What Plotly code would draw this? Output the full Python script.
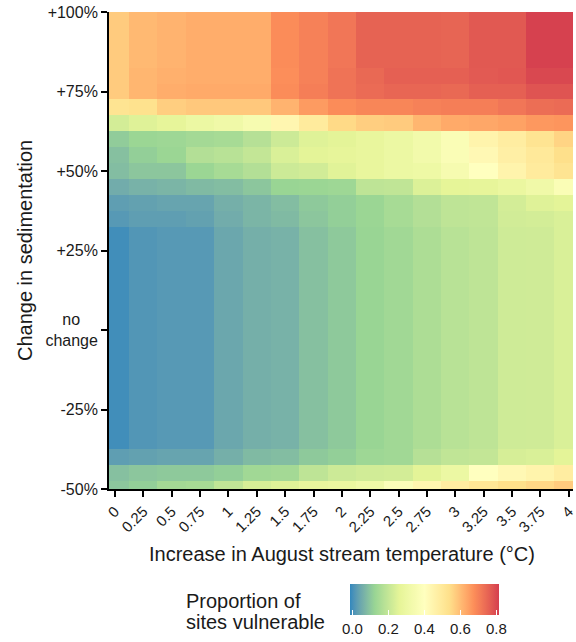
import plotly.graph_objects as go

# ---- data -------------------------------------------------------------
temp_increase = [0, 0.25, 0.5, 0.75, 1, 1.25, 1.5, 1.75, 2,
                 2.25, 2.5, 2.75, 3, 3.25, 3.5, 3.75, 4]
temp_labels = ["0", "0.25", "0.5", "0.75", "1", "1.25", "1.5", "1.75", "2",
               "2.25", "2.5", "2.75", "3", "3.25", "3.5", "3.75", "4"]

sediment_change = [-50, -45, -40, -35, -30, -25, -20, -15, -10, -5, 0,
                   5, 10, 15, 20, 25, 30, 35, 40, 45, 50, 55, 60, 65,
                   70, 75, 80, 85, 90, 95, 100]
sed_tick_vals = [100, 75, 50, 25, 0, -25, -50]
sed_tick_text = ["+100%", "+75%", "+50%", "+25%",
                 "no" + "\u00a0" * 4 + "<br>change", "-25%", "-50%"]

# proportion of sites vulnerable, one list per sedimentation level
vuln_m50 = [0.10, 0.115, 0.145, 0.15, 0.195, 0.235, 0.25, 0.28, 0.29,
            0.32, 0.38, 0.44, 0.48, 0.51, 0.54, 0.555, 0.575]
vuln_m45 = [0.09, 0.10, 0.105, 0.105, 0.115, 0.14, 0.145, 0.19, 0.215,
            0.225, 0.23, 0.26, 0.30, 0.40, 0.43, 0.45, 0.48]
vuln_m40 = [0.03, 0.035, 0.04, 0.04, 0.06, 0.08, 0.085, 0.105, 0.115,
            0.135, 0.14, 0.175, 0.195, 0.20, 0.235, 0.24, 0.26]
# every level from -35% to +30% gives the same proportions
vuln_m35_to_p30 = [0.0, 0.015, 0.02, 0.02, 0.045, 0.06, 0.065, 0.09, 0.105,
                   0.125, 0.14, 0.16, 0.18, 0.19, 0.22, 0.222, 0.24]
vuln_p35 = [0.02, 0.03, 0.03, 0.035, 0.055, 0.07, 0.08, 0.10, 0.115,
            0.13, 0.15, 0.17, 0.19, 0.195, 0.225, 0.23, 0.24]
vuln_p40 = [0.03, 0.035, 0.04, 0.04, 0.06, 0.07, 0.085, 0.105, 0.115,
            0.13, 0.15, 0.17, 0.19, 0.195, 0.23, 0.25, 0.26]
vuln_p45 = [0.055, 0.065, 0.07, 0.08, 0.085, 0.10, 0.125, 0.13, 0.135,
            0.19, 0.195, 0.245, 0.265, 0.27, 0.29, 0.32, 0.37]
vuln_p50 = [0.085, 0.10, 0.10, 0.13, 0.15, 0.17, 0.215, 0.225, 0.255,
            0.28, 0.30, 0.31, 0.35, 0.40, 0.45, 0.49, 0.52]
vuln_p55 = [0.09, 0.115, 0.13, 0.17, 0.18, 0.20, 0.24, 0.26, 0.27,
            0.28, 0.30, 0.33, 0.37, 0.43, 0.47, 0.50, 0.54]
vuln_p60 = [0.11, 0.13, 0.135, 0.145, 0.15, 0.175, 0.215, 0.25, 0.26,
            0.28, 0.30, 0.33, 0.37, 0.45, 0.48, 0.52, 0.56]
vuln_p65 = [0.23, 0.25, 0.27, 0.30, 0.32, 0.35, 0.44, 0.49, 0.55,
            0.57, 0.575, 0.61, 0.63, 0.635, 0.645, 0.66, 0.665]
vuln_p70 = [0.52, 0.53, 0.57, 0.58, 0.58, 0.58, 0.615, 0.655, 0.68,
            0.69, 0.69, 0.70, 0.705, 0.705, 0.72, 0.735, 0.74]
vuln_p75 = [0.575, 0.61, 0.625, 0.63, 0.63, 0.63, 0.68, 0.705, 0.725,
            0.74, 0.75, 0.75, 0.745, 0.76, 0.76, 0.78, 0.78]
vuln_p80 = [0.575, 0.61, 0.62, 0.625, 0.625, 0.625, 0.675, 0.70, 0.725,
            0.745, 0.76, 0.76, 0.76, 0.77, 0.775, 0.80, 0.80]
# every level from +85% to +100% gives the same proportions
vuln_p85_to_p100 = [0.575, 0.605, 0.615, 0.625, 0.625, 0.625, 0.68, 0.70, 0.72,
                    0.755, 0.755, 0.755, 0.752, 0.772, 0.772, 0.81, 0.81]

z_rows = ([vuln_m50, vuln_m45, vuln_m40]
          + [vuln_m35_to_p30] * 14
          + [vuln_p35, vuln_p40, vuln_p45, vuln_p50, vuln_p55,
             vuln_p60, vuln_p65, vuln_p70, vuln_p75, vuln_p80]
          + [vuln_p85_to_p100] * 4)

cbar_vals = [0, 0.2, 0.4, 0.6, 0.8]
cbar_text = ["0.0", "0.2", "0.4", "0.6", "0.8"]

# ---- Spectral palette (7 classes, blue -> red), interpolated in CIE Lab ----
spectral7 = ["#3288BD", "#99D594", "#E6F598", "#FFFFBF",
             "#FEE08B", "#FC8D59", "#D53E4F"]


def _lin(c):
    return c / 12.92 if c <= 0.04045 else ((c + 0.055) / 1.055) ** 2.4


def _gam(c):
    return 12.92 * c if c <= 0.0031308 else 1.055 * c ** (1 / 2.4) - 0.055


def hex_to_lab(h):
    r, g, b = (_lin(int(h[i:i + 2], 16) / 255) for i in (1, 3, 5))
    x = (0.4124 * r + 0.3576 * g + 0.1805 * b) / 0.95047
    y = 0.2126 * r + 0.7152 * g + 0.0722 * b
    zz = (0.0193 * r + 0.1192 * g + 0.9505 * b) / 1.08883

    def f(t):
        return t ** (1 / 3) if t > 0.008856 else 7.787 * t + 16 / 116
    fx, fy, fz = f(x), f(y), f(zz)
    return (116 * fy - 16, 500 * (fx - fy), 200 * (fy - fz))


def lab_to_rgb(L, a, b):
    fy = (L + 16) / 116
    fx = fy + a / 500
    fz = fy - b / 200

    def finv(t):
        return t ** 3 if t ** 3 > 0.008856 else (t - 16 / 116) / 7.787
    x = finv(fx) * 0.95047
    y = finv(fy)
    zz = finv(fz) * 1.08883
    r = 3.2406 * x - 1.5372 * y - 0.4986 * zz
    g = -0.9689 * x + 1.8758 * y + 0.0415 * zz
    bl = 0.0557 * x - 0.2040 * y + 1.0570 * zz
    vals = [round(255 * min(1.0, max(0.0, _gam(max(0.0, c))))) for c in (r, g, bl)]
    return "rgb(%d,%d,%d)" % tuple(vals)


labs = [hex_to_lab(h) for h in spectral7]
n_seg = len(labs) - 1
steps = 8
colorscale = []
for i in range(n_seg):
    for k in range(steps):
        t = k / steps
        L = labs[i][0] + (labs[i + 1][0] - labs[i][0]) * t
        A = labs[i][1] + (labs[i + 1][1] - labs[i][1]) * t
        B = labs[i][2] + (labs[i + 1][2] - labs[i][2]) * t
        colorscale.append([(i + t) / n_seg, lab_to_rgb(L, A, B)])
colorscale.append([1.0, lab_to_rgb(*labs[-1])])

# ---- figure ---------------------------------------------------------------
FONT = "Liberation Sans, Arial, Helvetica, sans-serif"
INK = "#1a1a1a"

fig = go.Figure(
    go.Heatmap(
        x=temp_increase,
        y=sediment_change,
        z=z_rows,
        colorscale=colorscale,
        zmin=-0.012,
        zmax=0.815,
        hoverinfo="skip",
        colorbar=dict(
            orientation="h",
            x=(351.7 - 109) / 467,
            xanchor="left",
            y=(491 - 586) / 479,
            yanchor="top",
            len=149,
            lenmode="pixels",
            thickness=31,
            thicknessmode="pixels",
            xpad=0,
            ypad=0,
            outlinewidth=0,
            tickvals=cbar_vals,
            ticktext=cbar_text,
            ticks="inside",
            ticklen=5,
            tickwidth=1,
            tickcolor="white",
            tickfont=dict(family=FONT, size=15, color=INK),
        ),
    )
)

fig.update_layout(
    width=576,
    height=642,
    margin=dict(l=109, r=0, t=12, b=151),
    paper_bgcolor="white",
    plot_bgcolor="white",
    font=dict(family=FONT, color=INK),
    xaxis=dict(
        range=[-0.0525, 4.037],
        tickvals=temp_increase,
        ticktext=temp_labels,
        tickangle=-45,
        ticklabeloverflow="allow",
        tickfont=dict(size=15, color=INK),
        ticks="outside",
        ticklen=6,
        tickwidth=1.8,
        tickcolor="black",
        showline=True,
        linecolor="black",
        linewidth=1.8,
        showgrid=False,
        zeroline=False,
    ),
    yaxis=dict(
        range=[-50, 100],
        tickvals=sed_tick_vals,
        ticktext=sed_tick_text,
        tickfont=dict(size=16, color=INK),
        ticks="outside",
        ticklen=6,
        tickwidth=1.8,
        tickcolor="black",
        showline=True,
        linecolor="black",
        linewidth=1.8,
        showgrid=False,
        zeroline=False,
    ),
    annotations=[
        dict(text="Increase in August stream temperature (°C)",
             xref="paper", yref="paper",
             x=(344 - 109) / 467, y=(491 - 556) / 479,
             xanchor="center", yanchor="middle", showarrow=False,
             font=dict(size=20, color=INK)),
        dict(text="Change in sedimentation",
             xref="paper", yref="paper",
             x=(24 - 109) / 467, y=0.5, textangle=-90,
             xanchor="center", yanchor="middle", showarrow=False,
             font=dict(size=20, color=INK)),
        dict(text="Proportion of",
             xref="paper", yref="paper",
             x=(184 - 109) / 467, y=(491 - 603) / 479,
             xanchor="left", yanchor="middle", showarrow=False,
             font=dict(size=20, color=INK)),
        dict(text="sites vulnerable",
             xref="paper", yref="paper",
             x=(184 - 109) / 467, y=(491 - 625) / 479,
             xanchor="left", yanchor="middle", showarrow=False,
             font=dict(size=20, color=INK)),
    ],
)

fig.write_html("out.html")
